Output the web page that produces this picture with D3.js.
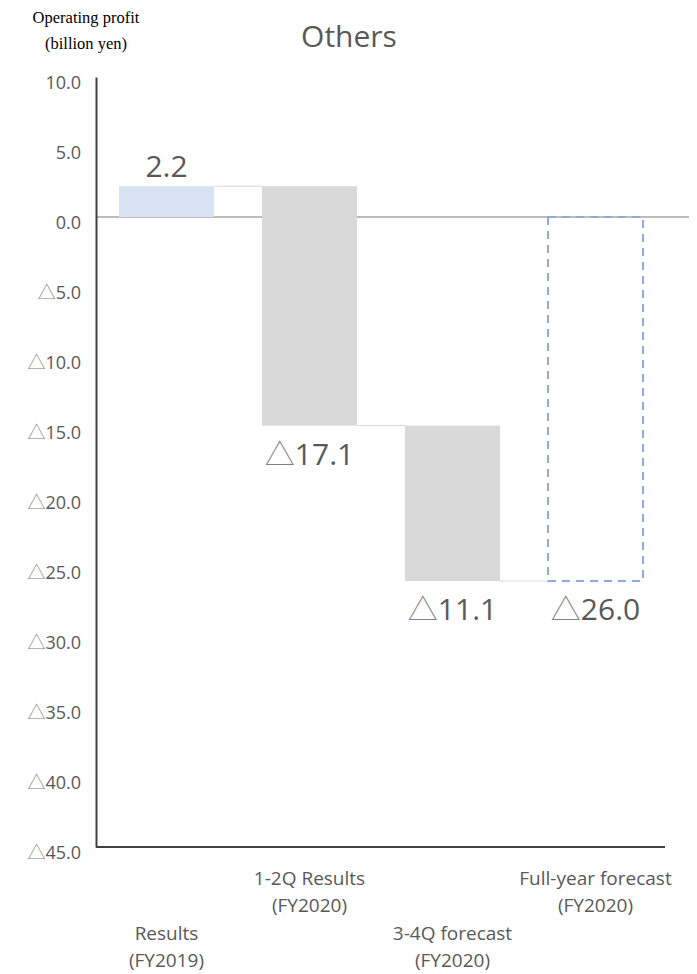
<!DOCTYPE html>
<html>
<head>
<meta charset="utf-8">
<script src="https://d3js.org/d3.v7.min.js"></script>
<style>
  body { margin: 0; background: #fff; }
  svg text { font-family: "Open Sans", "Noto Sans", sans-serif; }
  .tri { font-family: "Noto Sans CJK JP", sans-serif; font-weight: 300; }
</style>
</head>
<body>
<div id="chart"></div>
<script>
// data
var categories = ["Results|(FY2019)", "1-2Q Results|(FY2020)", "3-4Q forecast|(FY2020)", "Full-year forecast|(FY2020)"];
var changes = [2.2, -17.1, -11.1, -26.0];   // step values (last one is the total)
var kinds = ["start", "step", "step", "total"];
var yTicks = [10, 5, 0, -5, -10, -15, -20, -25, -30, -35, -40, -45];

var W = 697, H = 974;
var svg = d3.select("#chart").append("svg")
  .attr("width", W).attr("height", H);

var y = d3.scaleLinear().domain([10, -45]).range([77, 847]);
var x = d3.scaleBand().domain(categories).range([95, 667])
  .paddingInner(0.336).paddingOuter(0.168);

// running totals for waterfall
var run = 0;
var bars = categories.map(function(c, i) {
  var from, to;
  if (kinds[i] == "total") { from = 0; to = changes[i]; }
  else { from = run; to = run + changes[i]; run = to; }
  return {cat: c, from: from, to: to, v: changes[i], kind: kinds[i]};
});

// negative numbers are written with a triangle, japanese style
function putNum(t, v) {
  t.text(null);
  if (v < 0) t.append("tspan").attr("class", "tri").attr("fill", "#7f7f7f").text("\u25B3");
  t.append("tspan").text(d3.format(".1f")(Math.abs(v)));
}

// zero line
svg.append("line")
  .attr("x1", 96).attr("x2", 689)
  .attr("y1", y(0)).attr("y2", y(0))
  .attr("stroke", "#a6a6a6").attr("stroke-width", 1.5);

// connectors
for (var i = 0; i < bars.length - 1; i++) {
  svg.append("line")
    .attr("x1", x(bars[i].cat) + x.bandwidth())
    .attr("x2", x(bars[i+1].cat))
    .attr("y1", y(bars[i].to)).attr("y2", y(bars[i].to))
    .attr("stroke", "#d9d9d9").attr("stroke-width", 1);
}

// bars
bars.forEach(function(d) {
  var r = svg.append("rect")
    .attr("x", x(d.cat))
    .attr("width", x.bandwidth())
    .attr("y", y(Math.max(d.from, d.to)))
    .attr("height", Math.abs(y(d.from) - y(d.to)));
  if (d.kind == "start") r.attr("fill", "#dae3f3");
  else if (d.kind == "step") r.attr("fill", "#d9d9d9");
  else {
    r.attr("fill", "none").attr("stroke", "#8faadc")
     .attr("stroke-width", 2).attr("stroke-dasharray", "8,6");
  }
});

// value labels
bars.forEach(function(d) {
  var top = d.v >= 0;
  var yy = top ? y(Math.max(d.from, d.to)) - 9 : y(Math.min(d.from, d.to)) + 39;
  var t = svg.append("text")
    .attr("x", x(d.cat) + x.bandwidth() / 2)
    .attr("y", yy)
    .attr("text-anchor", "middle")
    .attr("font-size", 30)
    .attr("fill", "#595959");
  putNum(t, d.v);
});

// y axis
var yAxis = svg.append("g")
  .attr("transform", "translate(96,0)")
  .call(d3.axisLeft(y).tickValues(yTicks).tickSize(0).tickPadding(15));
yAxis.select(".domain").attr("stroke", "#404040").attr("stroke-width", 2);
yAxis.selectAll(".tick text")
  .attr("font-size", 18).attr("fill", "#595959")
  .attr("dy", 11)
  .style("font-family", "'Open Sans', sans-serif")
  .each(function(v) { putNum(d3.select(this), v); });

// bottom axis line
svg.append("line")
  .attr("x1", 96).attr("x2", 665)
  .attr("y1", y(-45)).attr("y2", y(-45))
  .attr("stroke", "#404040").attr("stroke-width", 2);

// category labels (staggered)
categories.forEach(function(c, i) {
  var lines = c.split("|");
  var base = i % 2 == 0 ? 940 : 885;
  var t = svg.append("text")
    .attr("x", x(c) + x.bandwidth() / 2)
    .attr("y", base)
    .attr("text-anchor", "middle")
    .attr("font-size", 19)
    .attr("fill", "#595959");
  lines.forEach(function(l, j) {
    t.append("tspan").attr("x", x(c) + x.bandwidth() / 2)
      .attr("dy", j == 0 ? 0 : 27).text(l);
  });
});

// title
svg.append("text")
  .attr("x", 349).attr("y", 47)
  .attr("text-anchor", "middle")
  .attr("font-size", 30).attr("fill", "#595959")
  .text("Others");

// axis title
svg.append("text")
  .attr("x", 86).attr("y", 23)
  .attr("text-anchor", "middle")
  .attr("font-size", 16.5).attr("fill", "#000")
  .style("font-family", "'Liberation Serif', serif")
  .text("Operating profit");
svg.append("text")
  .attr("x", 86).attr("y", 49)
  .attr("text-anchor", "middle")
  .attr("font-size", 16.5).attr("fill", "#000")
  .style("font-family", "'Liberation Serif', serif")
  .text("(billion yen)");
</script>
</body>
</html>
